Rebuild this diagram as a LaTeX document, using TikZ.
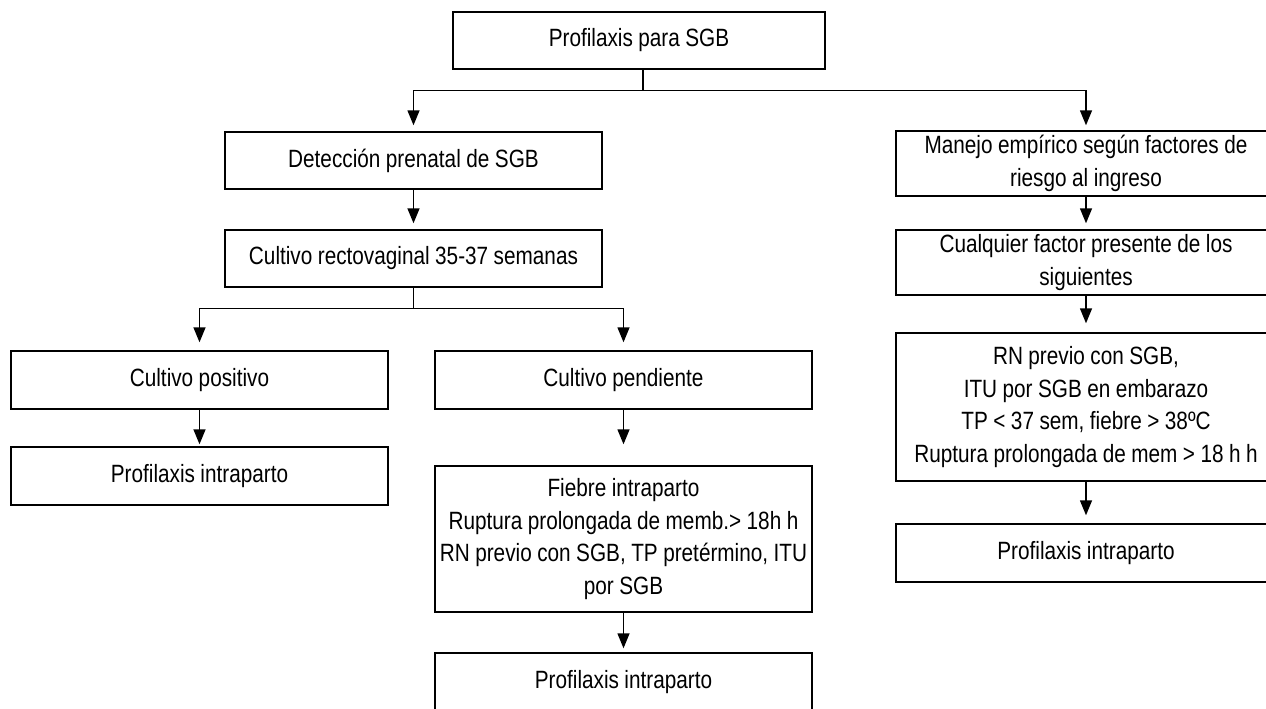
\documentclass[tikz,border=0pt]{standalone}
\usepackage{fontspec}
\setmainfont[FakeStretch=0.83,WordSpace=0.95]{Liberation Sans}
\usetikzlibrary{arrows.meta}
\begin{document}
\begin{tikzpicture}[x=1pt,y=-1pt,
  box/.style={draw,line width=1.4pt,rectangle,inner sep=0pt,align=center,
    font=\fontsize{25}{32.5}\selectfont},
  line/.style={line width=1.4pt},
  arr/.style={line width=1.4pt,-{Triangle[length=15pt,width=12pt]}}]
\useasboundingbox (0,0) rectangle (1266,709);
% nodes
\node[box,minimum width=372pt,minimum height=57pt] (A) at (639,40.5) {Profilaxis para SGB};
\node[box,minimum width=377pt,minimum height=57pt] (B) at (413.5,160.5) {Detección prenatal de SGB};
\node[box,minimum width=377pt,minimum height=57pt] (C) at (413.5,258.5) {Cultivo rectovaginal 35-37 semanas};
\node[box,minimum width=377pt,minimum height=58pt] (D) at (199.5,380) {Cultivo positivo};
\node[box,minimum width=377pt,minimum height=58pt] (E) at (199.5,476) {Profilaxis intraparto};
\node[box,minimum width=377pt,minimum height=58pt] (F) at (623.5,380) {Cultivo pendiente};
\node[box,minimum width=377pt,minimum height=146pt] (G) at (623.5,539) {Fiebre intraparto\\Ruptura prolongada de memb.> 18h h\\RN previo con SGB, TP pretérmino, ITU\\por SGB};
\node[box,minimum width=377pt,minimum height=58pt] (H) at (623.5,682) {Profilaxis intraparto};
\node[box,minimum width=380pt,minimum height=65pt] (I) at (1086,163.5) {Manejo empírico según factores de\\riesgo al ingreso};
\node[box,minimum width=380pt,minimum height=65pt] (J) at (1086,262.5) {Cualquier factor presente de los\\siguientes};
\node[box,minimum width=380pt,minimum height=148pt] (K) at (1086,407) {RN previo con SGB,\\ITU por SGB en embarazo\\TP < 37 sem, fiebre > 38ºC\\Ruptura prolongada de mem > 18 h h};
\node[box,minimum width=380pt,minimum height=58pt] (L) at (1086,553) {Profilaxis intraparto};
% connectors
\draw[line] ([xshift=4pt]A.south) -- ++(0,21) coordinate (j1);
\draw[arr,shorten >=6pt] (j1) -| (B.north);
\draw[arr,shorten >=5pt] (j1) -| (I.north);
\draw[arr,shorten >=6pt] (B) -- (C);
\draw[line] (C.south) -- ++(0,21) coordinate (j2);
\draw[arr,shorten >=8pt] (j2) -| (D.north);
\draw[arr,shorten >=8pt] (j2) -| (F.north);
\draw[arr,shorten >=2pt] (D) -- (E);
\draw[arr,shorten >=21pt] (F) -- (G);
\draw[arr,shorten >=4pt] (G) -- (H);
\draw[arr,shorten >=6pt] (I) -- (J);
\draw[arr,shorten >=9pt] (J) -- (K);
\draw[arr,shorten >=8pt] (K) -- (L);
\end{tikzpicture}
\end{document}
